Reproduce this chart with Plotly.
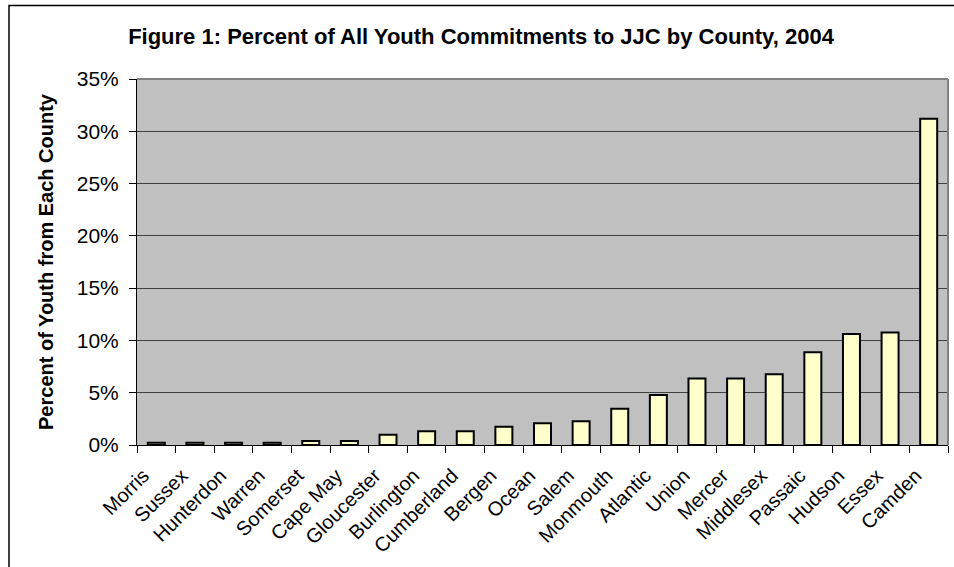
import plotly.graph_objects as go

counties = ["Morris", "Sussex", "Hunterdon", "Warren", "Somerset", "Cape May",
            "Gloucester", "Burlington", "Cumberland", "Bergen", "Ocean", "Salem",
            "Monmouth", "Atlantic", "Union", "Mercer", "Middlesex", "Passaic",
            "Hudson", "Essex", "Camden"]
percent = [0.22, 0.22, 0.22, 0.22, 0.39, 0.39, 0.97, 1.31, 1.31, 1.74, 2.09, 2.28,
           3.47, 4.79, 6.37, 6.37, 6.76, 8.88, 10.62, 10.77, 31.2]
y_ticks = [0, 5, 10, 15, 20, 25, 30, 35]
y_tick_labels = ["0%", "5%", "10%", "15%", "20%", "25%", "30%", "35%"]

FONT = "Arial, 'Liberation Sans', sans-serif"

fig = go.Figure()
fig.add_trace(go.Bar(
    x=counties, y=percent,
    marker=dict(color="#FFFFCC", line=dict(color="black", width=2)),
    width=0.44,
))

W, H = 954, 567
ml, mr, mt, mb = 137, 6, 79, 122
pw, ph = W - ml - mr, H - mt - mb

def px_x(p):
    return (p - ml) / pw

def px_y(p):
    return (H - mb - p) / ph

fig.update_layout(
    width=W, height=H,
    margin=dict(l=ml, r=mr, t=mt, b=mb, autoexpand=False),
    paper_bgcolor="white",
    plot_bgcolor="#C0C0C0",
    showlegend=False,
    font=dict(family=FONT, color="black", size=20),
    title=dict(
        text="<b>Figure 1: Percent of All Youth Commitments to JJC by County, 2004</b>",
        x=481 / W, xanchor="center", y=1 - 36 / H, yanchor="middle",
        font=dict(family=FONT, size=22, color="black"),
    ),
    bargap=0.56,
    xaxis=dict(
        showline=True, linecolor="black", linewidth=1,
        ticks="outside", ticklen=7, tickcolor="black", tickson="boundaries",
        tickangle=-45, tickfont=dict(size=20, family=FONT),
        ticklabelstandoff=10, ticklabelshift=-13,
        showgrid=False,
    ),
    yaxis=dict(
        range=[0, 35], tickvals=y_ticks, ticktext=y_tick_labels,
        showline=True, linecolor="black", linewidth=1,
        ticks="outside", ticklen=7, tickcolor="black",
        ticklabelstandoff=6,
        showgrid=True, gridcolor="#404040", gridwidth=1,
        tickfont=dict(size=21, family=FONT),
        title=dict(text="<b>Percent of Youth from Each County</b>",
                   font=dict(size=20, family=FONT), standoff=17),
        zeroline=False,
    ),
    shapes=[
        # grey top/right border of plot area
        dict(type="line", xref="paper", yref="paper", x0=0, x1=1, y0=1, y1=1,
             line=dict(color="#808080", width=2)),
        dict(type="line", xref="paper", yref="paper", x0=1, x1=1, y0=0, y1=1,
             line=dict(color="#808080", width=2)),
        # outer chart frame
        dict(type="rect", xref="paper", yref="paper",
             x0=px_x(9), x1=px_x(965), y0=px_y(580), y1=px_y(5.5),
             line=dict(color="black", width=1.5), fillcolor="rgba(0,0,0,0)"),
    ],
)

fig.write_html("out.html")
